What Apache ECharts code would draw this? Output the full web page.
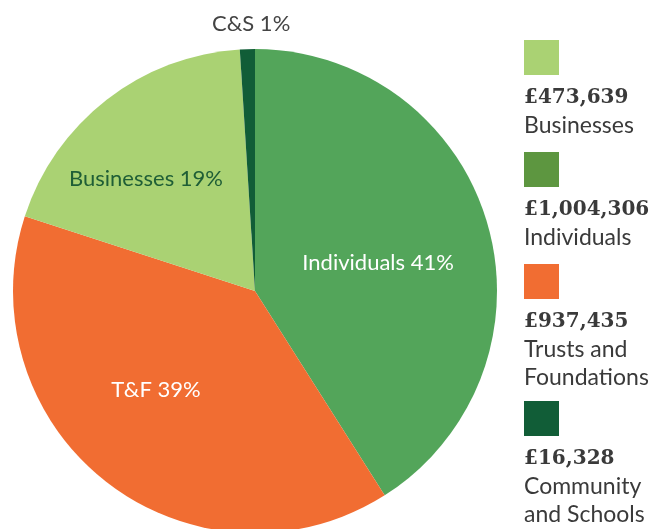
<!DOCTYPE html>
<html><head><meta charset="utf-8">
<script src="https://cdn.jsdelivr.net/npm/echarts@6/dist/echarts.min.js"></script>
<style>html,body{margin:0;padding:0;background:#fff}#c{width:654px;height:529px}</style>
</head><body><div id="c"></div>
<script>
// ---- data ----
const categories = ['Individuals', 'T&F', 'Businesses', 'C&S'];
const sharePercent = [41, 39, 19, 1];
const sliceColors = ['#53a55a', '#f16d32', '#aad273', '#115d37'];
const labelColors = ['#ffffff', '#ffffff', '#1f5e36', '#444444'];
const legendValues = ['£473,639', '£1,004,306', '£937,435', '£16,328'];
const legendNames = ['Businesses', 'Individuals', 'Trusts and\nFoundations', 'Community\nand Schools'];
const legendColors = ['#aad273', '#5d9640', '#f16d32', '#115d37'];
const labelShift = [[4, 7], [-23, 1], [-33, -14], [0, -143]];

const chart = echarts.init(document.getElementById('c'));

const graphics = [];
let rowTop = 40;
legendNames.forEach((name, i) => {
  const lines = name.split('\n').length;
  graphics.push({
    type: 'rect', left: 524, top: rowTop,
    shape: { width: 35, height: 35 },
    style: { fill: legendColors[i] }
  });
  graphics.push({
    type: 'text', x: 524, y: rowTop + 58,
    style: {
      text: legendValues[i], fill: '#3a3a3a',
      font: 'bold 20px "DejaVu Serif"',
      textAlign: 'left', textVerticalAlign: 'middle'
    }
  });
  graphics.push({
    type: 'text', x: 524, y: rowTop + 72,
    style: {
      text: name, fill: '#3a3a3a',
      font: '23px Lato', lineHeight: 27.5,
      textAlign: 'left', textVerticalAlign: 'top'
    }
  });
  rowTop += 112 + 25 * (lines - 1);
});

chart.setOption({
  animation: false,
  backgroundColor: '#ffffff',
  graphic: graphics,
  series: [{
    type: 'pie',
    center: [255, 291],
    radius: 242,
    startAngle: 90,
    clockwise: true,
    avoidLabelOverlap: false,
    itemStyle: { borderWidth: 0 },
    emphasis: { disabled: true },
    labelLine: { show: false },
    label: {
      show: true, position: 'inside',
      fontFamily: 'Lato', fontSize: 22,
      formatter: '{b} {c}%'
    },
    labelLayout: function (p) {
      const s = labelShift[p.dataIndex];
      return { dx: s[0], dy: s[1] };
    },
    data: categories.map((c, i) => ({
      name: c, value: sharePercent[i],
      itemStyle: { color: sliceColors[i] },
      label: { color: labelColors[i] }
    }))
  }]
});
</script>
</body></html>
